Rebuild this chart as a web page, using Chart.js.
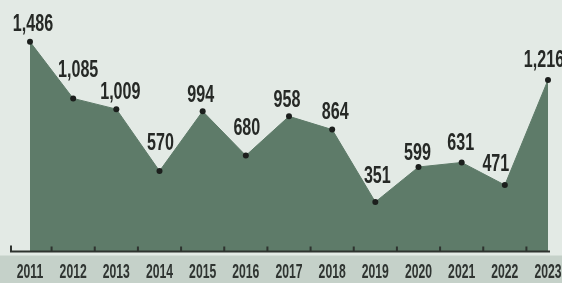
<!DOCTYPE html>
<html>
<head>
<meta charset="utf-8">
<script src="https://cdn.jsdelivr.net/npm/chart.js@4"></script>
<style>
  html, body { margin: 0; padding: 0; background: #e3eae5; }
  #wrap { width: 562px; height: 283px; }
</style>
</head>
<body>
<div id="wrap"><canvas id="chart" width="562" height="283"></canvas></div>
<script>
const years = ['2011', '2012', '2013', '2014', '2015', '2016', '2017', '2018', '2019', '2020', '2021', '2022', '2023'];
const values = [1486, 1085, 1009, 570, 994, 680, 958, 864, 351, 599, 631, 471, 1216];
const valueLabels = ['1,486', '1,085', '1,009', '570', '994', '680', '958', '864', '351', '599', '631', '471', '1,216'];

// hand placement of the value labels (dx, lift above the point)
const labelDx = [3, 5, 4, 1, -2, 1, -2, 3, 2, -1, -1, -9, -4];
const labelLift = [17, 28, 16, 27, 16, 27, 16, 17, 25, 13, 19, 20, 19];

const condensedText = (ctx, text, x, y, size, sx) => {
    ctx.save();
    ctx.translate(x, y);
    ctx.scale(sx, 1);
    ctx.font = 'bold ' + size + 'px "Liberation Sans", Arial, sans-serif';
    ctx.textAlign = 'center';
    ctx.textBaseline = 'middle';
    ctx.fillText(text, 0, 0);
    ctx.restore();
};

const decor = {
    id: 'decor',
    beforeDraw(chart) {
        const { ctx, width, height } = chart;
        const yAxis = chart.scales.y.getPixelForValue(0);
        ctx.save();
        ctx.fillStyle = '#e3eae5';
        ctx.fillRect(0, 0, width, height);
        ctx.fillStyle = '#c5d1c9';
        ctx.fillRect(0, yAxis + 4, width, height - yAxis - 4);
        ctx.restore();
    },
    afterDatasetsDraw(chart) {
        const { ctx } = chart;
        const x = chart.scales.x;
        const y0 = chart.scales.y.getPixelForValue(0);
        const meta = chart.getDatasetMeta(0);

        ctx.save();
        ctx.strokeStyle = '#2e332f';
        ctx.lineWidth = 2;
        ctx.beginPath();
        ctx.moveTo(10, y0);
        ctx.lineTo(x.getPixelForValue(years.length - 1) + 2, y0);
        ctx.moveTo(11, y0);
        ctx.lineTo(11, y0 - 6);
        for (let i = 0; i < years.length - 1; i++) {
            const mid = (x.getPixelForValue(i) + x.getPixelForValue(i + 1)) / 2;
            ctx.moveTo(mid, y0);
            ctx.lineTo(mid, y0 - 5);
        }
        ctx.stroke();

        ctx.fillStyle = '#262926';
        meta.data.forEach((pt, i) => {
            condensedText(ctx, valueLabels[i], pt.x + labelDx[i], pt.y - labelLift[i], 23, 0.7);
        });

        ctx.fillStyle = '#2f3431';
        years.forEach((yr, i) => {
            condensedText(ctx, yr, x.getPixelForValue(i), y0 + 21, 21, 0.58);
        });
        ctx.restore();
    }
};

new Chart(document.getElementById('chart'), {
    type: 'line',
    data: {
        labels: years,
        datasets: [{
            data: values,
            fill: 'origin',
            backgroundColor: '#5e7b69',
            borderColor: '#5e7b69',
            borderWidth: 1,
            tension: 0,
            pointRadius: 3,
            pointBackgroundColor: '#1c1f1d',
            pointBorderWidth: 0,
            clip: false
        }]
    },
    options: {
        responsive: false,
        animation: false,
        events: [],
        layout: { padding: { left: 30, right: 14, top: 30, bottom: 31.5 } },
        plugins: {
            legend: { display: false },
            tooltip: { enabled: false }
        },
        scales: {
            x: { display: false, offset: false },
            y: { display: false, min: 0, max: 1570 }
        }
    },
    plugins: [decor]
});
</script>
</body>
</html>
